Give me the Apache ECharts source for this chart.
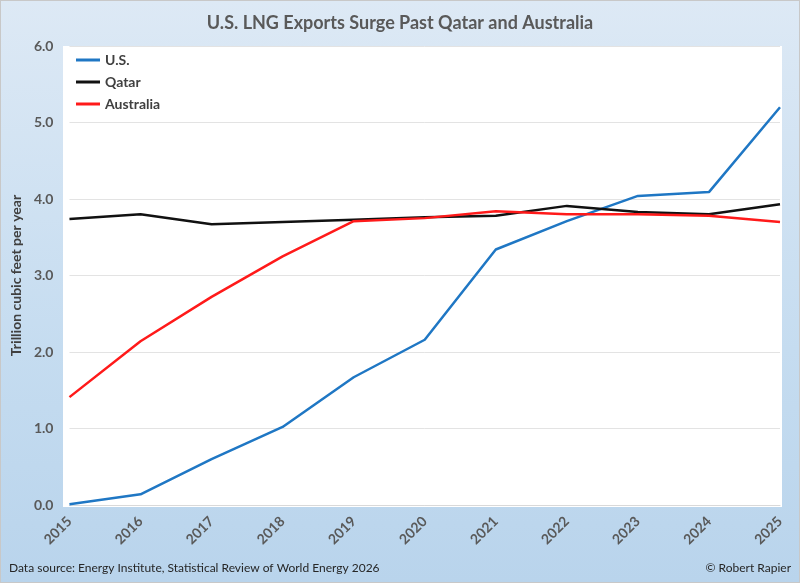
<!DOCTYPE html>
<html>
<head>
<meta charset="utf-8">
<script src="https://cdn.jsdelivr.net/npm/echarts@6/dist/echarts.min.js"></script>
<style>
	html, body { margin: 0; padding: 0; }
	#chart {
		width: 800px; height: 583px; box-sizing: border-box;
		border: 1px solid #c8c8c8;
		background: linear-gradient(to bottom, #dde9f5 0%, #c5dcf0 60%, #b9d4ec 100%);
	}
</style>
</head>
<body>
<div id="chart"></div>
<script>
	var years = ['2015', '2016', '2017', '2018', '2019', '2020', '2021', '2022', '2023', '2024', '2025'];
	var usData = [0.01, 0.14, 0.60, 1.02, 1.67, 2.16, 3.34, 3.71, 4.04, 4.09, 5.20];
	var qatarData = [3.74, 3.80, 3.67, 3.70, 3.73, 3.76, 3.78, 3.91, 3.83, 3.80, 3.93];
	var australiaData = [1.41, 2.14, 2.72, 3.25, 3.71, 3.75, 3.84, 3.80, 3.80, 3.78, 3.70];

	var font = 'Lato';
	var myChart = echarts.init(document.getElementById('chart'));
	var option = {
		backgroundColor: 'transparent',
		animation: false,
		title: {
			text: 'U.S. LNG Exports Surge Past Qatar and Australia',
			left: 'center',
			top: 8,
			textStyle: { fontFamily: font, fontSize: 18, fontWeight: 'bold', color: '#595959' }
		},
		legend: {
			orient: 'vertical',
			left: 70,
			top: 47,
			itemGap: 8,
			itemWidth: 24,
			itemHeight: 3,
			icon: 'rect',
			textStyle: { fontFamily: font, fontSize: 14, fontWeight: 'bold', color: '#404040' },
			data: ['U.S.', 'Qatar', 'Australia']
		},
		graphic: [{
			type: 'rect',
			shape: { x: 62, y: 45, width: 719, height: 461 },
			style: { fill: '#ffffff' },
			z: -10
		}, {
			type: 'text',
			left: 8,
			top: 561,
			style: { text: 'Data source: Energy Institute, Statistical Review of World Energy 2026', font: '12px Lato', fill: '#262626' }
		}, {
			type: 'text',
			right: 8,
			top: 561,
			style: { text: '© Robert Rapier', font: '12px Lato', fill: '#262626' }
		}],
		grid: { left: 62, right: 19, top: 45, bottom: 77 },
		xAxis: {
			type: 'category',
			boundaryGap: false,
			data: years,
			axisLine: { lineStyle: { color: '#d9d9d9' } },
			axisTick: { show: false },
			axisLabel: {
				rotate: 45,
				margin: 14,
				fontFamily: font, fontSize: 14, fontWeight: 'bold', color: '#595959'
			}
		},
		yAxis: {
			type: 'value',
			min: 0,
			max: 6,
			interval: 1,
			name: 'Trillion cubic feet per year',
			nameLocation: 'middle',
			nameGap: 44,
			nameTextStyle: { fontFamily: font, fontSize: 14, fontWeight: 'bold', color: '#404040' },
			axisLine: { show: false },
			axisTick: { show: false },
			axisLabel: {
				formatter: function(v) { return v.toFixed(1); },
				margin: 16,
				fontFamily: font, fontSize: 14, fontWeight: 'bold', color: '#595959'
			},
			splitLine: { lineStyle: { color: '#e3e3e3', width: 1 } }
		},
		series: [{
			name: 'U.S.',
			type: 'line',
			data: usData,
			symbol: 'none',
			color: '#1f77c4',
			lineStyle: { width: 2.5, color: '#1f77c4' }
		}, {
			name: 'Qatar',
			type: 'line',
			data: qatarData,
			symbol: 'none',
			color: '#111111',
			lineStyle: { width: 2.5, color: '#111111' }
		}, {
			name: 'Australia',
			type: 'line',
			data: australiaData,
			symbol: 'none',
			color: '#ff1a1a',
			lineStyle: { width: 2.5, color: '#ff1a1a' }
		}]
	};
	myChart.setOption(option);
</script>
</body>
</html>
